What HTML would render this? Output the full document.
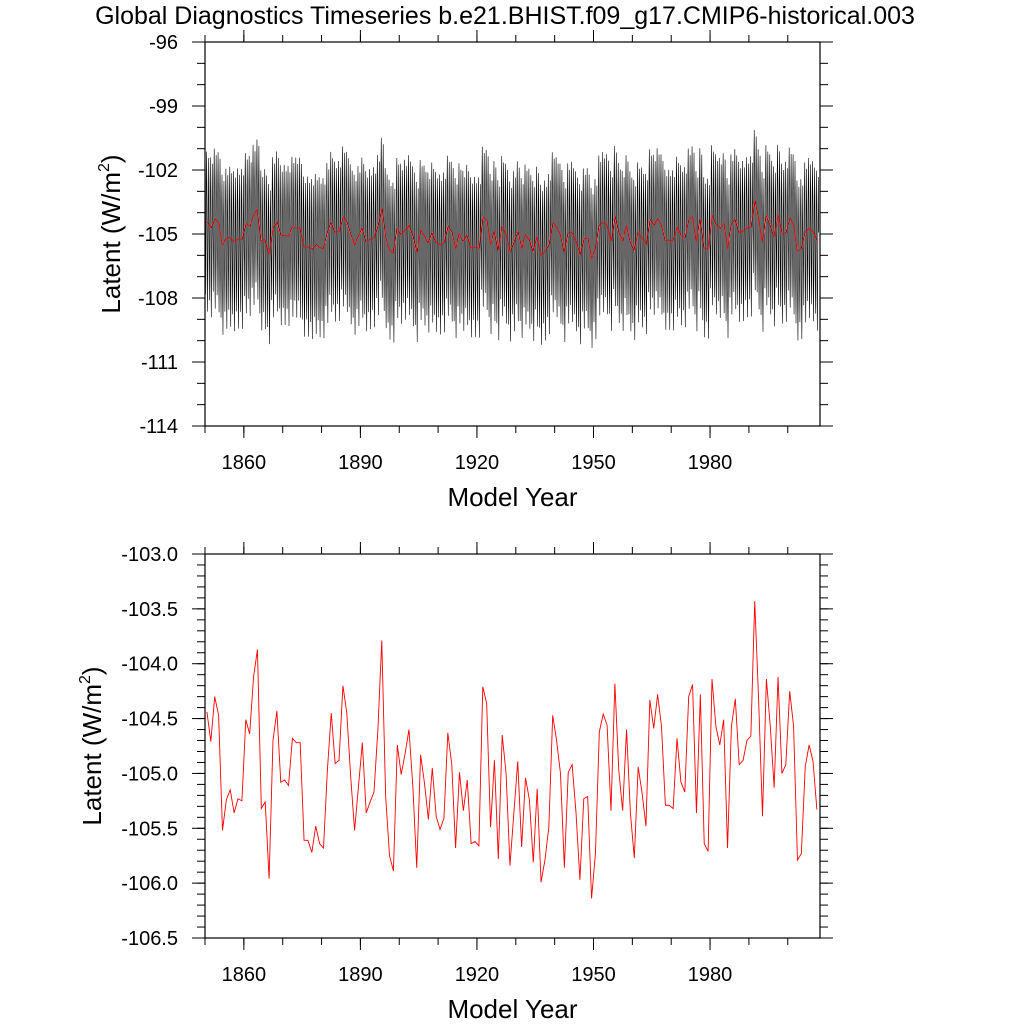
<!DOCTYPE html>
<html><head><meta charset="utf-8"><style>
html,body{margin:0;padding:0;background:#fff;}
svg{display:block;font-family:"Liberation Sans",sans-serif;}
</style></head><body>
<svg id="chart" width="1024" height="1024" viewBox="0 0 1024 1024" xmlns="http://www.w3.org/2000/svg">
<text x="505" y="24" text-anchor="middle" font-size="25">Global Diagnostics Timeseries b.e21.BHIST.f09_g17.CMIP6-historical.003</text>
<g id="top"></g>
<g id="bot"></g>
</svg>
<script>
const annualValues=[-104.44,-104.71,-104.30,-104.47,-105.52,-105.24,-105.15,-105.36,-105.23,-105.25,-104.51,-104.64,-104.12,-103.87,-105.32,-105.26,-105.96,-104.70,-104.43,-105.08,-105.06,-105.11,-104.68,-104.72,-104.72,-105.61,-105.61,-105.72,-105.48,-105.64,-105.68,-104.97,-104.45,-104.91,-104.88,-104.20,-104.45,-105.03,-105.52,-105.12,-104.72,-105.36,-105.26,-105.17,-104.60,-103.79,-105.21,-105.75,-105.89,-104.74,-105.01,-104.82,-104.60,-105.12,-105.86,-104.83,-105.09,-105.42,-104.95,-105.39,-105.51,-105.41,-104.63,-104.91,-105.68,-104.99,-105.34,-105.06,-105.64,-105.62,-105.66,-104.21,-104.36,-105.49,-104.88,-105.78,-104.65,-105.00,
-105.84,-105.36,-104.89,-105.67,-105.04,-105.24,-105.81,-105.14,-105.99,-105.79,-105.49,-104.47,-104.70,-105.00,-105.86,-104.99,-104.92,-105.36,-105.97,-105.23,-105.21,-106.14,-105.73,-104.62,-104.46,-104.56,-105.34,-104.18,-104.97,-105.34,-104.60,-105.36,-105.77,-104.94,-105.18,-105.48,-104.33,-104.59,-104.28,-104.57,-105.29,-105.29,-105.32,-104.68,-105.08,-105.17,-104.30,-104.19,-105.36,-104.28,-105.64,-105.71,-104.14,-104.57,-104.74,-104.51,-105.68,-104.57,-104.32,-104.92,-104.88,-104.70,-104.66,-103.43,-104.33,-105.39,-104.14,-104.57,-105.13,-104.12,-105.00,-104.92,-104.25,-104.57,-105.79,-105.73,-104.94,-104.74,-104.89,-105.33];
const seasonalAnomaly=[-1.6,-3.4,-0.8,2.1,3.3,1.1,-2.6,-4.2,-1.4,1.6,3.0,0.4];
const xTickYears=[1860,1890,1920,1950,1980];
const topYTicks=[-96,-99,-102,-105,-108,-111,-114];
const botYTicks=[-103.0,-103.5,-104.0,-104.5,-105.0,-105.5,-106.0,-106.5];
const startYear=1850;
const NS="http://www.w3.org/2000/svg";
const X0=205,X1=820,XMIN=1850,XMAX=2008.3;
function sx(yr){return X0+(yr-XMIN)/(XMAX-XMIN)*(X1-X0);}
function mk(tag,attrs,parent){const e=document.createElementNS(NS,tag);for(const k in attrs)e.setAttribute(k,attrs[k]);parent.appendChild(e);return e;}
function panel(g,y0,y1,vmin,vmax,yticks,minorStep,dec,series,titleX){
  const sy=v=>y1-(v-vmin)/(vmax-vmin)*(y1-y0);
  series.forEach(s=>{
    const p=mk('polyline',{points:s.pts.map(d=>sx(d[0]).toFixed(2)+','+sy(d[1]).toFixed(2)).join(' '),fill:'none',stroke:s.color,'stroke-width':s.w},g);
    
    
  });
  const fr=mk('rect',{x:X0,y:y0,width:X1-X0,height:y1-y0,fill:'none',stroke:'#000','stroke-width':1.2},g);
  
  
  const tg=mk('g',{stroke:'#000','stroke-width':1},g);
  
  
  for(let v=vmin;v<=vmax+1e-9;v+=minorStep){const y=sy(v);
    mk('line',{x1:X0-8,x2:X0,y1:y,y2:y},tg);mk('line',{x1:X1,x2:X1+8,y1:y,y2:y},tg);}
  yticks.forEach(v=>{const y=sy(v);
    mk('line',{x1:X0-13,x2:X0,y1:y,y2:y},tg);mk('line',{x1:X1,x2:X1+13,y1:y,y2:y},tg);
    const t=mk('text',{x:X0-27,y:y+7,'text-anchor':'end','font-size':20},g);t.textContent=v.toFixed(dec);
    
    
  });
  for(let yr=1850;yr<=XMAX;yr+=10){const x=sx(yr);
    mk('line',{x1:x,x2:x,y1:y1,y2:y1+7},tg);mk('line',{x1:x,x2:x,y1:y0-7,y2:y0},tg);}
  xTickYears.forEach(yr=>{const x=sx(yr);
    mk('line',{x1:x,x2:x,y1:y1,y2:y1+12},tg);mk('line',{x1:x,x2:x,y1:y0-12,y2:y0},tg);
    const t=mk('text',{x:x,y:y1+43,'text-anchor':'middle','font-size':20},g);t.textContent=yr;
    
    
  });
  const xt=mk('text',{x:(X0+X1)/2,y:y1+80,'text-anchor':'middle','font-size':26},g);xt.textContent='Model Year';
  
  
  const cy=(y0+y1)/2;
  const yt=mk('text',{x:titleX,y:cy,'text-anchor':'middle','font-size':26,transform:'rotate(-90 '+titleX+' '+cy+')'},g);
  yt.innerHTML='Latent (W/m<tspan font-size="16" dy="-11">2</tspan><tspan dy="11">)</tspan>';
  
  
}
const annualPts=annualValues.map((v,i)=>[startYear+i+0.5,v]);
const monthlyPts=[];
annualValues.forEach((v,i)=>seasonalAnomaly.forEach((a,m)=>monthlyPts.push([startYear+i+(m+0.5)/12,v+a])));
panel(document.getElementById('top'),42,426,-114,-96,topYTicks,1,0,
 [{pts:monthlyPts,color:'#000',w:0.6,name:'monthly-series'},{pts:annualPts,color:'#f00',w:0.8,name:'annual-series'}],120);
panel(document.getElementById('bot'),554,938,-106.5,-103,botYTicks,0.1,1,
 [{pts:annualPts,color:'#f00',w:0.9,name:'annual-series'}],101);
</script>
</body></html>
